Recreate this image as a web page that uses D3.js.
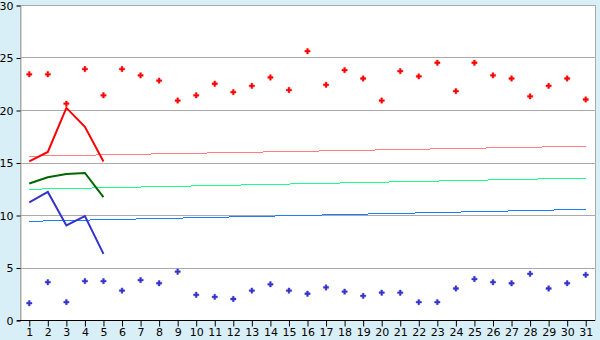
<!DOCTYPE html>
<html>
<head>
<meta charset="utf-8">
<script src="https://cdn.jsdelivr.net/npm/d3@7"></script>
<style>
  body { margin: 0; background: #d9eff7; }
  svg { display: block; }
  text { font-family: "DejaVu Sans", Verdana, sans-serif; font-size: 11px; fill: #000; }
</style>
</head>
<body>
<svg id="vis" width="600" height="340"></svg>
<script>
// days of month
const days = d3.range(1, 32);

// scattered daily values
const highs = [23.4, 23.4, 20.6, 23.9, 21.4, 23.9, 23.3, 22.8, 20.9, 21.4,
  22.5, 21.7, 22.3, 23.1, 21.9, 25.6, 22.4, 23.8, 23.0, 20.9,
  23.7, 23.2, 24.5, 21.8, 24.5, 23.3, 23.0, 21.3, 22.3, 23.0, 21.0];
const lows = [1.6, 3.6, 1.7, 3.7, 3.7, 2.8, 3.8, 3.5, 4.6, 2.4,
  2.2, 2.0, 2.8, 3.4, 2.8, 2.5, 3.1, 2.7, 2.3, 2.6,
  2.6, 1.7, 1.7, 3.0, 3.9, 3.6, 3.5, 4.4, 3.0, 3.5, 4.3];

// first five days lines
const redLine = [15.1, 16.0, 20.2, 18.4, 15.1];
const greenLine = [13.0, 13.6, 13.9, 14.0, 11.7];
const blueLine = [11.2, 12.2, 9.0, 9.9, 6.3];

// trend lines (start, end)
const pinkTrend = [15.6, 16.55];
const greenTrend = [12.45, 13.52];
const blueTrend = [9.4, 10.54];

const yTicks = [0, 5, 10, 15, 20, 25, 30];

const svg = d3.select("svg#vis");
const m = { left: 20, right: 595, top: 5, bottom: 320 };

const x = d3.scalePoint().domain(days).range([m.left, m.right]).padding(0.5);
const y = d3.scaleLinear().domain([0, 30]).range([m.bottom, m.top]);

// plot background
svg.append("rect")
  .attr("x", m.left + 0.5).attr("y", m.top + 0.5)
  .attr("width", m.right - m.left).attr("height", m.bottom - m.top)
  .attr("fill", "#fff")
  .attr("stroke", "#aaa");

// grid
svg.append("g")
  .selectAll("line")
  .data(yTicks.slice(1))
  .enter()
  .append("line")
  .attr("x1", m.left).attr("x2", m.right)
  .attr("y1", d => Math.round(y(d)) + 0.5)
  .attr("y2", d => Math.round(y(d)) + 0.5)
  .attr("stroke", "#aaa");

// y axis
const yAxis = svg.append("g")
  .attr("transform", "translate(" + (m.left + 0.5) + ",0.5)")
  .call(d3.axisLeft(y).tickValues(yTicks).tickSize(4).tickPadding(3));
yAxis.select(".domain").attr("stroke", "#aaa");
yAxis.selectAll(".tick line").attr("stroke", "#000");

// x axis
const xAxis = svg.append("g")
  .attr("transform", "translate(0," + (m.bottom + 0.5) + ")")
  .call(d3.axisBottom(x).tickSize(6).tickSizeOuter(0).tickPadding(2));
xAxis.select(".domain").attr("stroke", "#000").attr("d", "M" + (m.left - 3) + ",0H" + m.right);
xAxis.selectAll(".tick line").attr("stroke", "#000");
svg.selectAll(".tick text").attr("font-size", 11).attr("font-family", "DejaVu Sans, Verdana, sans-serif");

// trend lines
function trend(vals, color) {
  svg.append("line")
    .attr("x1", x(1)).attr("x2", x(31))
    .attr("y1", y(vals[0])).attr("y2", y(vals[1]))
    .attr("stroke", color)
    .attr("stroke-width", 1)
    .attr("shape-rendering", "crispEdges");
}
trend(pinkTrend, "#ff7f7f");
trend(greenTrend, "#1aff8c");
trend(blueTrend, "#1a7fff");

// data lines
const line = d3.line().x((d, i) => x(days[i])).y(d => y(d));
[[redLine, "#ff0000"], [greenLine, "#006600"], [blueLine, "#3333cc"]].forEach(function(s) {
  svg.append("path")
    .attr("d", line(s[0]))
    .attr("fill", "none")
    .attr("stroke", s[1])
    .attr("stroke-width", 2);
});

// markers
const marker = d3.symbol(d3.symbolCross).size(16);
function points(vals, color) {
  svg.append("g")
    .selectAll("path")
    .data(vals)
    .enter()
    .append("path")
    .attr("d", marker)
    .attr("transform", (d, i) => "translate(" + x(days[i]) + "," + y(d) + ")")
    .attr("fill", color)
    .attr("stroke", color)
    .attr("stroke-width", 0.4);
}
points(highs, "#ff0000");
points(lows, "#3333cc");
</script>
</body>
</html>
